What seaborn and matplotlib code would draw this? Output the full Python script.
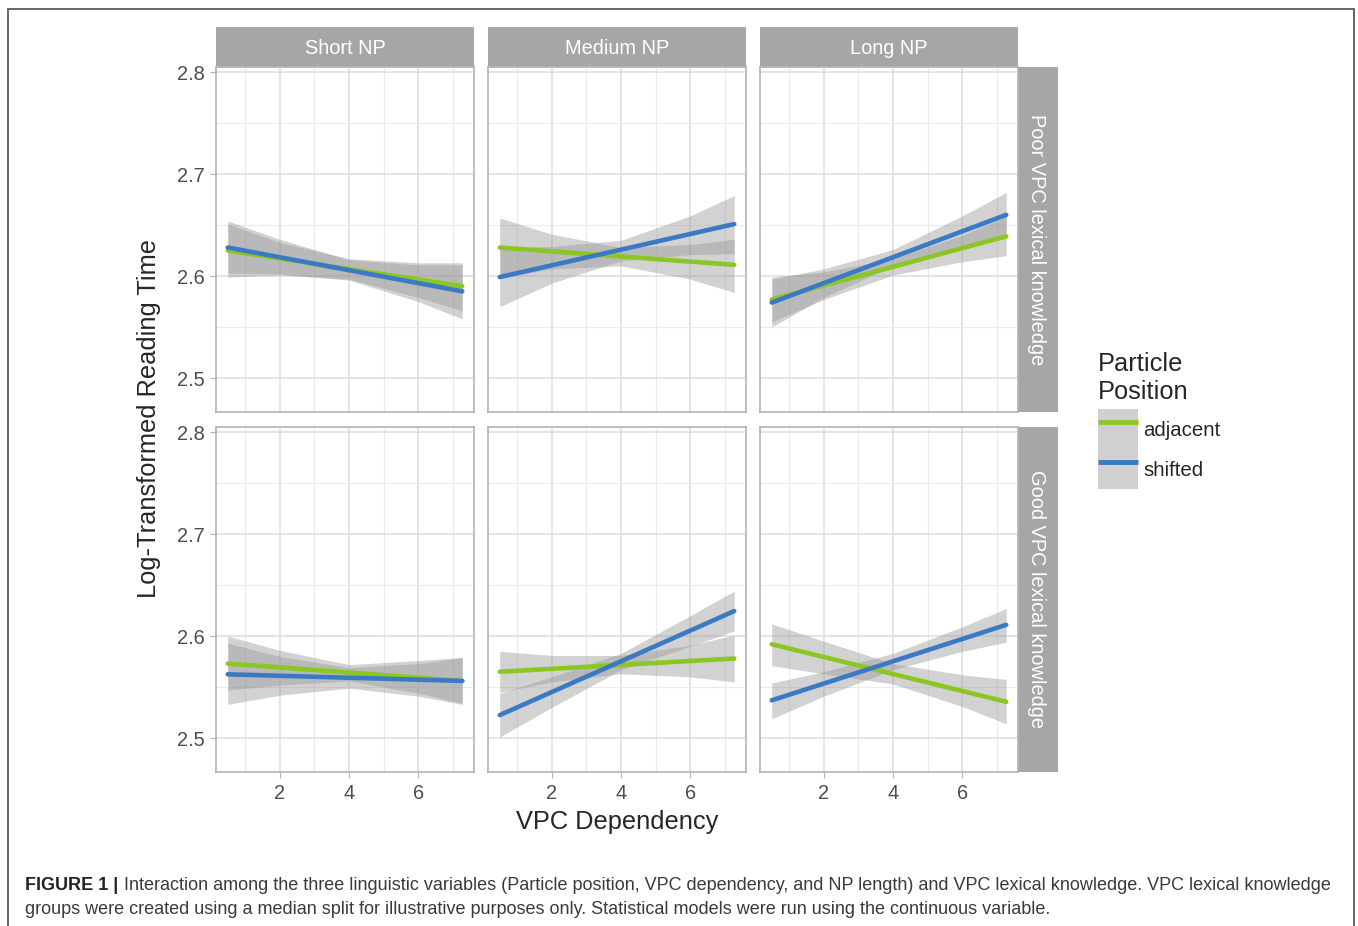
import pandas as pd
import seaborn as sns
import matplotlib.pyplot as plt
from matplotlib.patches import Rectangle, Patch
from matplotlib.lines import Line2D
from matplotlib.legend_handler import HandlerTuple

# facets, in order: Poor row (Short, Medium, Long), then Good row
knowledge = ["Poor VPC lexical knowledge"] * 3 + ["Good VPC lexical knowledge"] * 3
np_length = ["Short NP", "Medium NP", "Long NP"] * 2
positions = ["adjacent", "shifted"]
colors = {"adjacent": "#8CC623", "shifted": "#3A7AC5"}

line_x = [0.5, 7.27]
band_x = [0.5, 2, 4, 6, 7.27]

# fitted lines (value at first and last x)
adj_start = [2.625, 2.628, 2.577, 2.573, 2.565, 2.592]
adj_end = [2.590, 2.611, 2.639, 2.556, 2.578, 2.5355]
shf_start = [2.628, 2.599, 2.574, 2.5625, 2.5225, 2.537]
shf_end = [2.585, 2.651, 2.660, 2.556, 2.6245, 2.611]

# confidence bands read at band_x
adj_lo = [[2.599, 2.601, 2.597, 2.579, 2.566],
          [2.598, 2.607, 2.610, 2.597, 2.584],
          [2.555, 2.577, 2.601, 2.614, 2.620],
          [2.547, 2.552, 2.556, 2.544, 2.534],
          [2.545, 2.555, 2.563, 2.560, 2.555],
          [2.571, 2.563, 2.553, 2.531, 2.514]]
adj_hi = [[2.651, 2.633, 2.617, 2.613, 2.613],
          [2.657, 2.641, 2.628, 2.631, 2.636],
          [2.599, 2.604, 2.617, 2.640, 2.658],
          [2.600, 2.586, 2.572, 2.576, 2.579],
          [2.585, 2.581, 2.581, 2.591, 2.601],
          [2.612, 2.595, 2.573, 2.562, 2.5575]]
shf_lo = [[2.603, 2.602, 2.596, 2.575, 2.558],
          [2.570, 2.593, 2.615, 2.621, 2.622],
          [2.550, 2.579, 2.610, 2.628, 2.637],
          [2.533, 2.542, 2.549, 2.541, 2.533],
          [2.501, 2.530, 2.567, 2.590, 2.605],
          [2.519, 2.541, 2.567, 2.585, 2.594]]
shf_hi = [[2.654, 2.636, 2.616, 2.611, 2.611],
          [2.628, 2.629, 2.635, 2.659, 2.679],
          [2.597, 2.607, 2.626, 2.659, 2.682],
          [2.593, 2.580, 2.569, 2.573, 2.579],
          [2.544, 2.560, 2.583, 2.620, 2.644],
          [2.554, 2.565, 2.583, 2.609, 2.627]]

caption_bold = "FIGURE 1 |"
caption_1 = ("Interaction among the three linguistic variables (Particle position, VPC dependency, "
             "and NP length) and VPC lexical knowledge. VPC lexical knowledge")
caption_2 = ("groups were created using a median split for illustrative purposes only. "
             "Statistical models were run using the continuous variable.")

rows = []
for i in range(6):
    for pos, st, en, lo, hi in [("adjacent", adj_start, adj_end, adj_lo, adj_hi),
                                ("shifted", shf_start, shf_end, shf_lo, shf_hi)]:
        for x, y in zip(line_x, [st[i], en[i]]):
            rows.append(dict(knowledge=knowledge[i], np_len=np_length[i], position=pos,
                             kind="fit", x=x, y=y, lo=None, hi=None))
        for j, x in enumerate(band_x):
            rows.append(dict(knowledge=knowledge[i], np_len=np_length[i], position=pos,
                             kind="band", x=x, y=None, lo=lo[i][j], hi=hi[i][j]))
df = pd.DataFrame(rows)

sns.set_style("white")
plt.rcParams["font.family"] = ["Liberation Sans", "DejaVu Sans"]


def draw_panel(data, **kws):
    ax = plt.gca()
    for pos in positions:
        band = data[(data.position == pos) & (data.kind == "band")]
        ax.fill_between(band.x.astype(float), band.lo.astype(float), band.hi.astype(float),
                        color="#999999", alpha=0.44, lw=0, zorder=2)
        fit = data[(data.position == pos) & (data.kind == "fit")]
        sns.lineplot(data=fit, x="x", y="y", color=colors[pos], lw=3.3, ax=ax, zorder=3)


row_order = ["Poor VPC lexical knowledge", "Good VPC lexical knowledge"]
col_order = ["Short NP", "Medium NP", "Long NP"]
g = sns.FacetGrid(df, row="knowledge", col="np_len", row_order=row_order,
                  col_order=col_order, height=3.45, aspect=0.75, despine=False)
g.map_dataframe(draw_panel)
g.set_titles("")
g.set_axis_labels("", "")

fig = g.figure
fig.set_size_inches(13.58, 9.26)

for r in range(2):
    for c in range(3):
        ax = g.axes[r, c]
        ax.set_xlim(0.16, 7.61)
        ax.set_ylim(2.4667, 2.805)
        ax.set_xticks([2, 4, 6])
        ax.set_xticks([1, 3, 5, 7], minor=True)
        ax.set_yticks([2.5, 2.6, 2.7, 2.8])
        ax.set_yticks([2.55, 2.65, 2.75], minor=True)
        ax.grid(which="major", color="#DCDCDC", lw=1.1)
        ax.grid(which="minor", color="#EAEAEA", lw=0.8)
        ax.set_axisbelow(True)
        for sp in ax.spines.values():
            sp.set_color("#B3B3B3")
            sp.set_linewidth(1.2)
        ax.tick_params(which="major", length=4, color="#B3B3B3", labelcolor="#4D4D4D",
                       labelsize=14.4, pad=4)
        ax.tick_params(which="minor", length=0)
        ax.tick_params(axis="x", bottom=(r == 1), labelbottom=(r == 1), pad=5)
        ax.tick_params(axis="y", left=(c == 0), labelleft=(c == 0))
        ax.set_yticklabels(["2.5", "2.6", "2.7", "2.8"])
        if r == 0:
            ax.add_patch(Rectangle((0, 1), 1, 40 / 345, transform=ax.transAxes,
                                   facecolor="#A6A6A6", edgecolor="none", clip_on=False))
            ax.text(0.5, 1 + 18 / 345, col_order[c], transform=ax.transAxes, ha="center",
                    va="center", color="white", fontsize=14.4)
        if c == 2:
            ax.add_patch(Rectangle((1, 0), 40 / 258, 1, transform=ax.transAxes,
                                   facecolor="#A6A6A6", edgecolor="none", clip_on=False))
            ax.text(1 + 18.5 / 258, 0.5, row_order[r], transform=ax.transAxes, ha="center",
                    va="center", color="white", fontsize=14.4, rotation=270)

fig.subplots_adjust(left=216 / 1358, right=1018 / 1358, top=1 - 67 / 926,
                    bottom=1 - 772 / 926, wspace=14 / 258, hspace=15 / 345)

fig.text(617 / 1358, 1 - 822 / 926, "VPC Dependency", ha="center", va="center", fontsize=18.3)
fig.text(149 / 1358, 1 - 419 / 926, "Log-Transformed Reading Time", ha="center", va="center",
         rotation=90, fontsize=18.3)

handles = [(Patch(facecolor="#D0D0D0", edgecolor="none"),
            Line2D([0], [0], color=colors[p], lw=3.5, solid_capstyle="butt"))
           for p in positions]
leg = fig.legend(handles, positions, loc="upper left",
                 bbox_to_anchor=(1098 / 1358, 1 - 352 / 926), frameon=False,
                 title="Particle\nPosition", title_fontsize=18.3, fontsize=14.7,
                 handler_map={tuple: HandlerTuple(ndivide=1, pad=0)}, handlelength=1.96,
                 handleheight=2.64, labelspacing=0, handletextpad=0.25, borderpad=0,
                 borderaxespad=0, alignment="left")
leg._legend_box.sep = 4

# outer frame of the figure panel
fig.add_artist(Rectangle((8 / 1358, -0.05), 1346 / 1358, 1.05 - 9 / 926,
                         transform=fig.transFigure, fill=False, edgecolor="#5A5A5A", lw=1.3))

fig.text(25 / 1358, 1 - 885 / 926, caption_bold, ha="left", va="center", fontsize=13,
         fontweight="bold", color="#222222")
fig.text(124 / 1358, 1 - 885 / 926, caption_1, ha="left", va="center", fontsize=13,
         color="#3A3A3A")
fig.text(25 / 1358, 1 - 910 / 926, caption_2, ha="left", va="center", fontsize=13,
         color="#3A3A3A")

fig.savefig("out.png", dpi=100)
